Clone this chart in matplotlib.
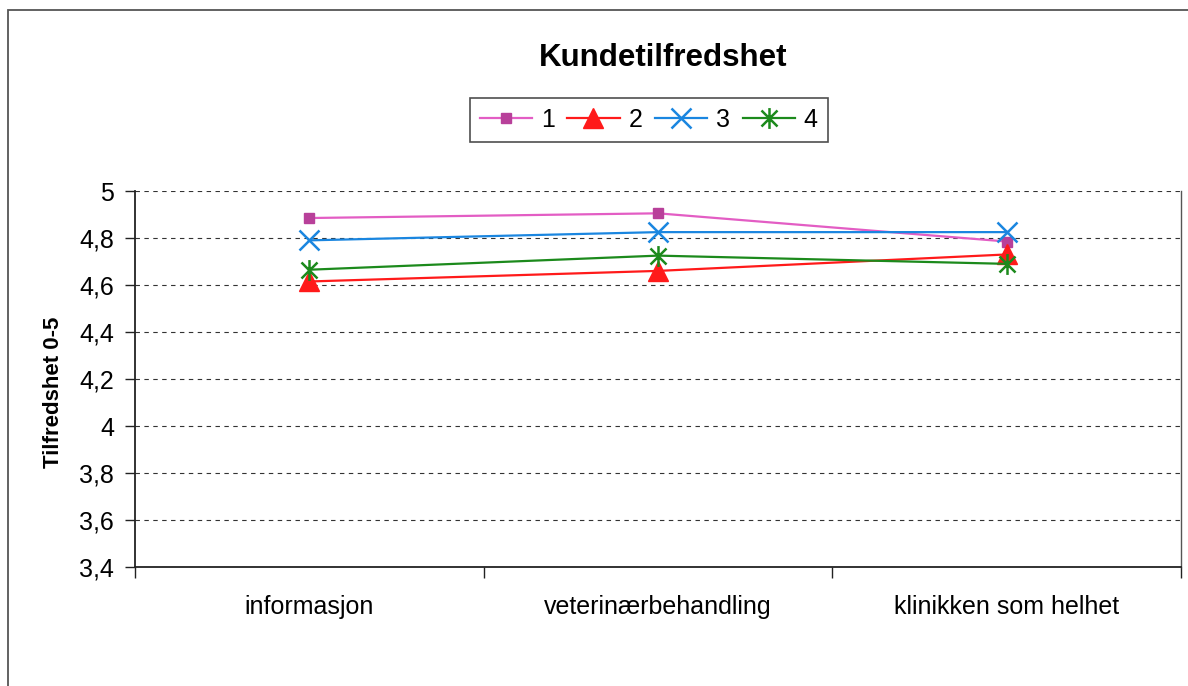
"""Kundetilfredshet line chart (Excel-style), saved as out.png."""

import matplotlib.pyplot as plt
from matplotlib.patches import Rectangle
from matplotlib.path import Path
from matplotlib.ticker import FixedLocator, FuncFormatter

plt.rcParams["font.family"] = ["Liberation Sans", "DejaVu Sans"]

categories = ["informasjon", "veterinærbehandling", "klinikken som helhet"]
series_names = ["1", "2", "3", "4"]
s1 = [4.885, 4.905, 4.785]
s2 = [4.615, 4.660, 4.730]
s3 = [4.790, 4.825, 4.825]
s4 = [4.665, 4.725, 4.690]
y_ticks = [3.4, 3.6, 3.8, 4.0, 4.2, 4.4, 4.6, 4.8, 5.0]

# Excel asterisk: an x with a vertical stroke through it
asterisk = Path(
    [(-1, -1), (1, 1), (-1, 1), (1, -1), (0, -1.3), (0, 1.3)],
    [Path.MOVETO, Path.LINETO, Path.MOVETO, Path.LINETO, Path.MOVETO, Path.LINETO],
)

styles = [
    dict(color="#E35DC4", marker="s", ms=7.5, mfc="#B8409A", mec="#B8409A"),
    dict(color="#FF1A1A", marker="^", ms=14, mfc="#FF1A1A", mec="#FF1A1A"),
    dict(color="#1A86E0", marker="x", ms=14, mew=1.8),
    dict(color="#1C8A1C", marker=asterisk, ms=15, mew=1.8),
]

fig = plt.figure(figsize=(11.88, 6.86), dpi=100)
ax = fig.add_axes([135 / 1188, 1 - 567 / 686, (1181 - 135) / 1188, (567 - 191) / 686])

x = [0.5, 1.5, 2.5]
lines = []
for name, vals, st in zip(series_names, [s1, s2, s3, s4], styles):
    (ln,) = ax.plot(x, vals, lw=1.6, label=name, **st)
    lines.append(ln)

ax.set_xlim(0, 3)
ax.set_ylim(3.4, 5.0)
ax.yaxis.set_major_locator(FixedLocator(y_ticks))
ax.yaxis.set_major_formatter(FuncFormatter(lambda v, p: f"{v:g}".replace(".", ",")))
ax.grid(axis="y", linestyle=(0, (4, 4)), color="#333333", lw=0.8)
ax.set_axisbelow(True)

ax.set_xticks([0, 1, 2, 3])
ax.set_xticklabels([])
ax.set_xticks(x, minor=True)
ax.set_xticklabels(categories, minor=True, fontsize=18)
ax.tick_params(axis="x", which="major", direction="out", length=8, width=1, color="#222222")
ax.tick_params(axis="x", which="minor", length=0, pad=20)
ax.tick_params(axis="y", direction="out", length=7, width=1, color="#222222",
               labelsize=18, pad=8)

for side in ["left", "bottom"]:
    ax.spines[side].set_color("#222222")
    ax.spines[side].set_linewidth(1.3)
ax.spines["top"].set_visible(False)
ax.spines["right"].set_color("#555555")
ax.spines["right"].set_linewidth(1.0)

ax.set_ylabel("Tilfredshet 0-5", fontsize=16, fontweight="bold")
ax.yaxis.set_label_coords(-0.068, 0.465)

fig.text(0.558, 0.915, "Kundetilfredshet", fontsize=22.5, fontweight="bold",
         ha="center", va="center")

leg = fig.legend(handles=lines, loc="center", bbox_to_anchor=(0.546, 0.825), ncol=4,
                 fontsize=18, frameon=True, fancybox=False, edgecolor="#222222",
                 handlelength=2.1, handletextpad=0.35, columnspacing=0.5,
                 borderpad=0.4)
leg.get_frame().set_linewidth(1.2)

# outer chart frame, running off the right and bottom of the page
fig.add_artist(Rectangle((8 / 1188, -0.1), 1.2, 1.1 - 10 / 686, transform=fig.transFigure,
                         fill=False, edgecolor="#555555", lw=1.3))

fig.savefig("out.png", dpi=100)
